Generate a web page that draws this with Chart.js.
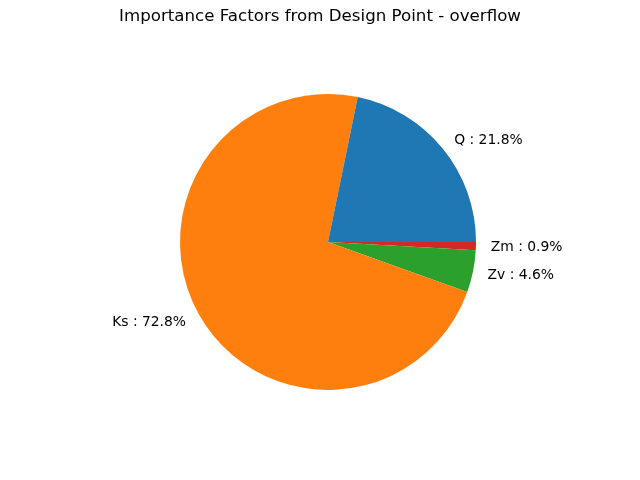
<!DOCTYPE html>
<html>
<head>
<meta charset="utf-8">
<script src="https://cdn.jsdelivr.net/npm/chart.js@4/dist/chart.umd.min.js"></script>
<style>
html,body{margin:0;padding:0;background:#fff;}
#wrap{width:640px;height:480px;position:relative;}
</style>
</head>
<body>
<div id="wrap"><canvas id="c" width="640" height="480"></canvas></div>
<script>
// Data (matplotlib counterclockwise order: Q, Ks, Zv, Zm)
const categories = ["Q", "Ks", "Zv", "Zm"];
const percentages = [21.8, 72.8, 4.6, 0.9];
const sliceColors = ["#1f77b4", "#ff7f0e", "#2ca02c", "#d62728"];
const chartTitle = "Importance Factors from Design Point - overflow";

// Chart.js draws clockwise, so reverse to mimic counterclockwise order starting at 3 o'clock
const labelsCW = categories.slice().reverse();
const valuesCW = percentages.slice().reverse();
const colorsCW = sliceColors.slice().reverse();

const FONT = "'DejaVu Sans', sans-serif";

const mplPlugin = {
  id: 'mplPie',
  afterDraw(chart) {
    const ctx = chart.ctx;
    ctx.save();
    ctx.fillStyle = '#000';
    ctx.font = "16.67px " + FONT;
    ctx.textAlign = 'center';
    ctx.textBaseline = 'middle';
    ctx.fillText(chartTitle, 320, 17);

    ctx.font = "13.89px " + FONT;
    const meta = chart.getDatasetMeta(0);
    meta.data.forEach((arc, i) => {
      const p = arc.getProps(['x','y','startAngle','endAngle','outerRadius'], true);
      const mid = (p.startAngle + p.endAngle) / 2;
      const r = p.outerRadius * 1.1;
      const x = p.x + r * Math.cos(mid);
      const y = p.y + r * Math.sin(mid) + 1;
      ctx.textAlign = Math.cos(mid) >= 0 ? 'left' : 'right';
      ctx.textBaseline = 'middle';
      ctx.fillText(labelsCW[i] + " : " + valuesCW[i].toFixed(1) + "%", x, y);
    });
    ctx.restore();
  }
};

new Chart(document.getElementById('c'), {
  type: 'pie',
  data: {
    labels: labelsCW,
    datasets: [{
      data: valuesCW,
      backgroundColor: colorsCW,
      borderWidth: 0,
      hoverOffset: 0
    }]
  },
  options: {
    responsive: false,
    animation: false,
    rotation: 90,
    layout: { padding: { left: 180, right: 164, top: 94, bottom: 90 } },
    plugins: {
      legend: { display: false },
      title: { display: false },
      tooltip: { enabled: false }
    },
    events: []
  },
  plugins: [mplPlugin]
});
</script>
</body>
</html>
